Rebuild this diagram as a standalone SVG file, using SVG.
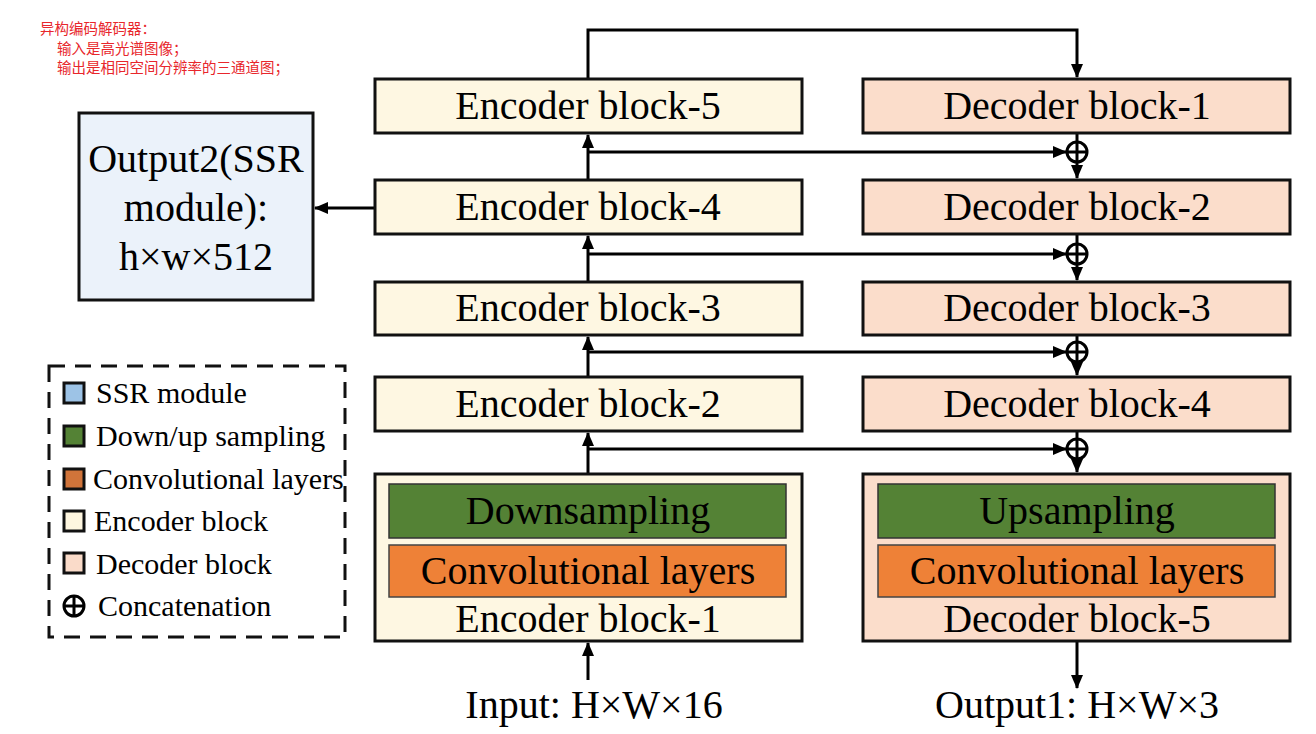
<svg xmlns="http://www.w3.org/2000/svg" width="1316" height="734" viewBox="0 0 1316 734">
<defs>
<marker id="ah" markerWidth="14" markerHeight="12" refX="13" refY="6" orient="auto" markerUnits="userSpaceOnUse">
<path d="M0,0 L14,6 L0,12 Z" fill="#000"/>
</marker>
<style>
.enc{fill:#FEF7E2;stroke:#111;stroke-width:3}
.dec{fill:#FBDDCB;stroke:#111;stroke-width:3}
.grn{fill:#548235;stroke:#333;stroke-width:1.5}
.org{fill:#EE8137;stroke:#444;stroke-width:1.5}
.t40{font-family:"Liberation Serif","Times New Roman",serif;font-size:40px;fill:#000;text-anchor:middle}
.lg{font-family:"Liberation Serif","Times New Roman",serif;font-size:30px;fill:#000}
.cn{font-family:"Noto Sans CJK SC",sans-serif;font-size:14.5px;fill:#E8262B}
.ln{fill:none;stroke:#000;stroke-width:3}
.ci{fill:#fff;stroke:#000;stroke-width:3}
.sq{stroke:#111;stroke-width:3}
</style>
</defs>
<rect width="1316" height="734" fill="#fff"/>

<g id="note">
<text class="cn" x="40" y="34">异构编码解码器：</text>
<text class="cn" x="57" y="54">输入是高光谱图像；</text>
<text class="cn" x="57" y="73">输出是相同空间分辨率的三通道图；</text>
</g>

<g id="connectors">
<path class="ln" d="M588,79 V30 H1077 V77" marker-end="url(#ah)"/>
<path class="ln" d="M588,180 V135" marker-end="url(#ah)"/>
<path class="ln" d="M588,282 V236" marker-end="url(#ah)"/>
<path class="ln" d="M588,377 V337" marker-end="url(#ah)"/>
<path class="ln" d="M588,474 V433" marker-end="url(#ah)"/>
<path class="ln" d="M588,680 V643" marker-end="url(#ah)"/>
<path class="ln" d="M588,152 H1066" marker-end="url(#ah)"/>
<path class="ln" d="M588,254 H1066" marker-end="url(#ah)"/>
<path class="ln" d="M588,352 H1066" marker-end="url(#ah)"/>
<path class="ln" d="M588,449 H1066" marker-end="url(#ah)"/>
<path class="ln" d="M1077,133 V178" marker-end="url(#ah)"/>
<path class="ln" d="M1077,234 V280" marker-end="url(#ah)"/>
<path class="ln" d="M1077,335 V375" marker-end="url(#ah)"/>
<path class="ln" d="M1077,431 V472" marker-end="url(#ah)"/>
<path class="ln" d="M1077,641 V688" marker-end="url(#ah)"/>
<path class="ln" d="M375,208 H315" marker-end="url(#ah)"/>
<g id="concat">
<circle class="ci" cx="1077" cy="152" r="10"/><path class="ln" d="M1067,152 H1087 M1077,142 V162"/>
<circle class="ci" cx="1077" cy="254" r="10"/><path class="ln" d="M1067,254 H1087 M1077,244 V264"/>
<circle class="ci" cx="1077" cy="352" r="10"/><path class="ln" d="M1067,352 H1087 M1077,342 V362"/>
<circle class="ci" cx="1077" cy="449" r="10"/><path class="ln" d="M1067,449 H1087 M1077,439 V459"/>
</g>
</g>

<g id="enc5"><rect class="enc" x="375" y="79" width="427" height="54"/><text class="t40" x="588" y="119">Encoder block-5</text></g>
<g id="enc4"><rect class="enc" x="375" y="180" width="427" height="54"/><text class="t40" x="588" y="220">Encoder block-4</text></g>
<g id="enc3"><rect class="enc" x="375" y="282" width="427" height="53"/><text class="t40" x="588" y="321">Encoder block-3</text></g>
<g id="enc2"><rect class="enc" x="375" y="377" width="427" height="54"/><text class="t40" x="588" y="417">Encoder block-2</text></g>
<g id="enc1">
<rect class="enc" x="375" y="474" width="427" height="167"/>
<rect class="grn" x="389" y="484" width="397" height="54"/>
<text class="t40" x="588" y="524">Downsampling</text>
<rect class="org" x="389" y="545" width="397" height="52"/>
<text class="t40" x="588" y="584">Convolutional layers</text>
<text class="t40" x="588" y="632">Encoder block-1</text>
</g>

<g id="dec1"><rect class="dec" x="863" y="79" width="427" height="54"/><text class="t40" x="1077" y="119">Decoder block-1</text></g>
<g id="dec2"><rect class="dec" x="863" y="180" width="427" height="54"/><text class="t40" x="1077" y="220">Decoder block-2</text></g>
<g id="dec3"><rect class="dec" x="863" y="282" width="427" height="53"/><text class="t40" x="1077" y="321">Decoder block-3</text></g>
<g id="dec4"><rect class="dec" x="863" y="377" width="427" height="54"/><text class="t40" x="1077" y="417">Decoder block-4</text></g>
<g id="dec5">
<rect class="dec" x="863" y="474" width="427" height="167"/>
<rect class="grn" x="878" y="484" width="397" height="54"/>
<text class="t40" x="1077" y="524">Upsampling</text>
<rect class="org" x="878" y="545" width="397" height="52"/>
<text class="t40" x="1077" y="584">Convolutional layers</text>
<text class="t40" x="1077" y="632">Decoder block-5</text>
</g>

<g id="output2">
<rect x="79" y="113" width="234" height="187" fill="#EBF2FA" stroke="#111" stroke-width="3"/>
<text class="t40" x="196" y="172">Output2(SSR</text>
<text class="t40" x="196" y="221">module):</text>
<text class="t40" x="196" y="270">h×w×512</text>
</g>

<g id="input"><text class="t40" x="594" y="718">Input: H×W×16</text></g>
<g id="output1"><text class="t40" x="1077" y="718">Output1: H×W×3</text></g>

<g id="legend">
<rect x="49" y="366" width="296" height="271" fill="none" stroke="#111" stroke-width="3" stroke-dasharray="16,10"/>
<rect class="sq" x="64" y="383" width="20" height="20" fill="#9DC3E6"/>
<text class="lg" x="96" y="403">SSR module</text>
<rect class="sq" x="64" y="426" width="20" height="20" fill="#548235"/>
<text class="lg" x="96" y="446">Down/up sampling</text>
<rect class="sq" x="64" y="469" width="20" height="20" fill="#D0743A"/>
<text class="lg" x="93" y="489">Convolutional layers</text>
<rect class="sq" x="64" y="511" width="20" height="20" fill="#FEF6DF"/>
<text class="lg" x="94" y="531">Encoder block</text>
<rect class="sq" x="64" y="553" width="20" height="20" fill="#FADBC9"/>
<text class="lg" x="96" y="574">Decoder block</text>
<circle cx="74" cy="606" r="10" fill="#fff" stroke="#000" stroke-width="3"/>
<path d="M64,606 H84 M74,596 V616" stroke="#000" stroke-width="3"/>
<text class="lg" x="98" y="616">Concatenation</text>
</g>
</svg>
